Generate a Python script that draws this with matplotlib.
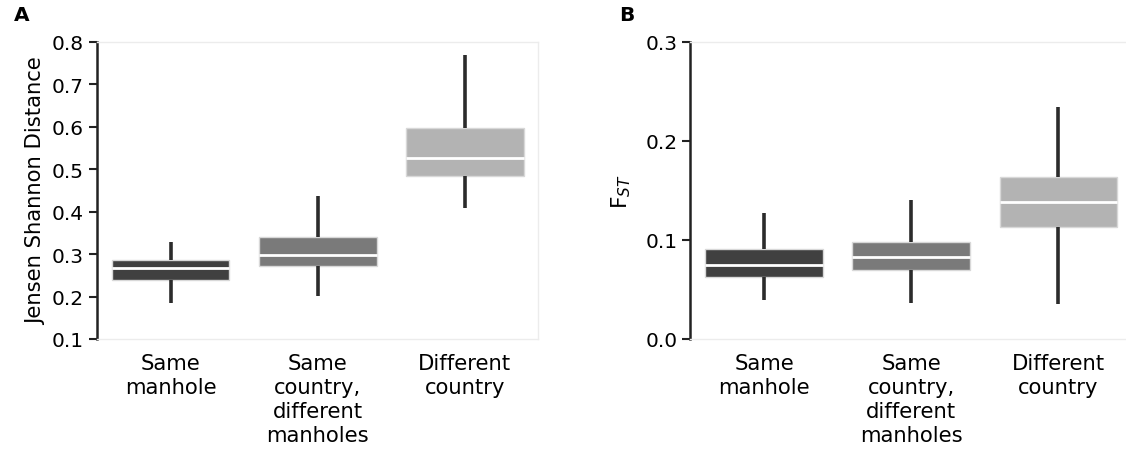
import matplotlib
matplotlib.use('Agg')
import matplotlib.pyplot as plt

# box summary values per comparison group
groups = ['Same\nmanhole', 'Same\ncountry,\ndifferent\nmanholes', 'Different\ncountry']
box_colors = ['#404040', '#7a7a7a', '#b3b3b3']

jsd_q1 = [0.238, 0.271, 0.485]
jsd_med = [0.268, 0.299, 0.526]
jsd_q3 = [0.285, 0.340, 0.598]
jsd_lo = [0.184, 0.202, 0.408]
jsd_hi = [0.329, 0.437, 0.770]

fst_q1 = [0.063, 0.070, 0.113]
fst_med = [0.075, 0.083, 0.138]
fst_q3 = [0.091, 0.098, 0.164]
fst_lo = [0.039, 0.036, 0.035]
fst_hi = [0.127, 0.140, 0.234]

plt.rcParams['font.family'] = 'DejaVu Sans'
TICK_FS = 14.5
LABEL_FS = 15.2


def draw_boxes(ax, q1, med, q3, lo, hi):
	stats = []
	for i in range(len(groups)):
		stats.append({'med': med[i], 'q1': q1[i], 'q3': q3[i],
					  'whislo': lo[i], 'whishi': hi[i], 'fliers': []})
	bp = ax.bxp(stats,
				positions=range(len(groups)),
				widths=0.8,
				patch_artist=True,
				showcaps=False,
				showfliers=False,
				whiskerprops=dict(color='#2b2b2b', linewidth=2.6, solid_capstyle='butt'),
				medianprops=dict(color='white', linewidth=2),
				boxprops=dict(edgecolor='#d8d8d8', linewidth=1))
	for patch, c in zip(bp['boxes'], box_colors):
		patch.set_facecolor(c)
	ax.set_xlim(-0.5, 2.5)
	ax.set_xticks(range(len(groups)))
	ax.set_xticklabels(groups, fontsize=LABEL_FS, linespacing=1.26)
	ax.tick_params(axis='x', length=0, pad=10)
	ax.tick_params(axis='y', labelsize=TICK_FS, length=6, width=1.5, color='#222222')
	for s in ['top', 'right', 'bottom']:
		ax.spines[s].set_color('#ececec')
		ax.spines[s].set_linewidth(1)
	ax.spines['left'].set_color('#222222')
	ax.spines['left'].set_linewidth(1.8)


fig = plt.figure(figsize=(11.26, 4.52), dpi=100)
ax1 = fig.add_axes([0.0861, 0.2478, 0.3921, 0.6571])
ax2 = fig.add_axes([0.6132, 0.2478, 0.3921, 0.6571])

draw_boxes(ax1, jsd_q1, jsd_med, jsd_q3, jsd_lo, jsd_hi)
ax1.set_ylim(0.1, 0.8)
ax1.set_yticks([0.1, 0.2, 0.3, 0.4, 0.5, 0.6, 0.7, 0.8])
ax1.set_ylabel('Jensen Shannon Distance', fontsize=LABEL_FS)

draw_boxes(ax2, fst_q1, fst_med, fst_q3, fst_lo, fst_hi)
ax2.set_ylim(0.0, 0.3)
ax2.set_yticks([0.0, 0.1, 0.2, 0.3])
ax2.set_ylabel(r'F$_{ST}$', fontsize=LABEL_FS + 0.5, labelpad=9)

fig.text(0.0124, 0.966, 'A', fontsize=14.5, fontweight='bold', va='center')
fig.text(0.5497, 0.966, 'B', fontsize=14.5, fontweight='bold', va='center')

fig.savefig('out.png', dpi=100)
